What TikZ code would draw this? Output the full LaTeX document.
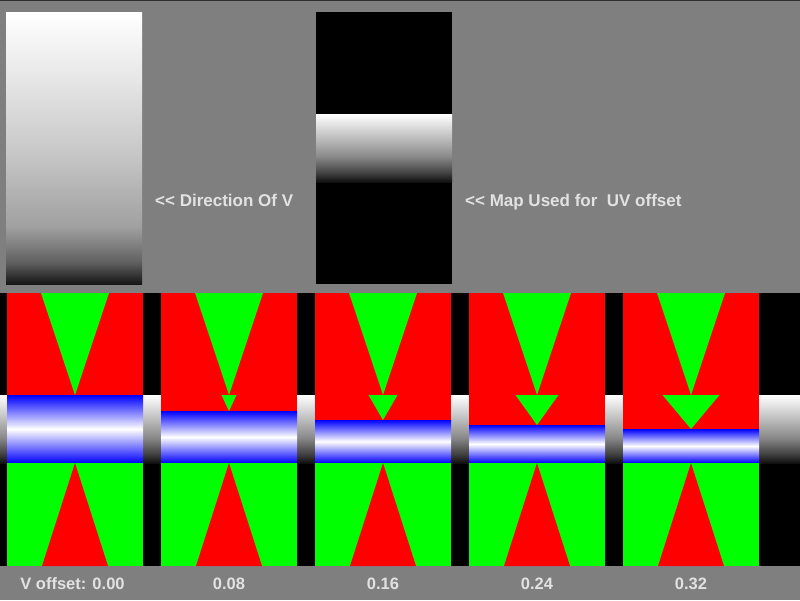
\documentclass[tikz,border=0pt]{standalone}
\usepackage{fontspec}
\setmainfont{Liberation Sans}
\definecolor{bg}{RGB}{127,127,127}
\definecolor{txt}{RGB}{226,226,226}
\definecolor{topline}{RGB}{45,45,45}
\definecolor{dA}{RGB}{22,22,22}
\definecolor{dB}{RGB}{96,96,96}
\definecolor{dC}{RGB}{160,160,160}
\definecolor{dD}{RGB}{200,200,200}
\definecolor{dE}{RGB}{230,230,230}
\definecolor{mA}{RGB}{16,16,16}
\definecolor{mB}{RGB}{64,64,64}
\definecolor{mC}{RGB}{136,136,136}
\definecolor{mD}{RGB}{184,184,184}
\pgfdeclareverticalshading{dirv}{100bp}{color(0bp)=(dA); color(25bp)=(dA); color(29bp)=(dB); color(35.5bp)=(dC); color(49.5bp)=(dD); color(62.5bp)=(dE); color(75bp)=(white); color(100bp)=(white)}
\pgfdeclareverticalshading{mapv}{100bp}{color(0bp)=(mA); color(25bp)=(mA); color(31.5bp)=(mB); color(43.5bp)=(mC); color(56bp)=(mD); color(75bp)=(white); color(100bp)=(white)}
\tikzset{
  lbl/.style={inner sep=0pt, text=txt, font=\bfseries\fontsize{17}{20}\selectfont},
  vlbl/.style={inner sep=0pt, text=txt, anchor=base, font=\bfseries\fontsize{16.5}{20}\selectfont},
  band/.style={top color=blue, bottom color=blue, middle color=white}
}
\begin{document}
\begin{tikzpicture}[x=1pt,y=-1pt]
\fill[bg] (0,0) rectangle (800,600);
\useasboundingbox (0,0) rectangle (800,600);
\fill[topline] (0,0) rectangle (800,1);
% direction of V
\shade[shading=dirv] (6,12) rectangle (142,284);
% map used
\fill[black] (316,12) rectangle (452,284);
\shade[shading=mapv] (316,114) rectangle (452,182);
\node[lbl, anchor=base west] (dirlabel) at (155,206) {<\kern0pt< Direction Of V};
\node[lbl, anchor=base west] (maplabel) at (465,206) {<\kern0pt< Map Used for\ \ UV offset};
% bottom background (tiled map)
\fill[black] (0,293) rectangle (800,566);
\shade[shading=mapv] (0,395) rectangle (800,463);
% panels
\foreach \i/\w/\b in {0/0/395, 1/15/411, 2/29/420, 3/43/425, 4/57/429}{
  \pgfmathsetmacro{\px}{7+154*\i}
  \fill[red] (\px,293) rectangle (\px+136,395);
  \fill[green] (\px+34,293) -- (\px+102,293) -- (\px+68,395) -- cycle;
  \fill[red] (\px,395) rectangle (\px+136,\b);
  \fill[green] (\px+68-\w/2,395) -- (\px+68+\w/2,395) -- (\px+68,\b) -- cycle;
  \shade[band] (\px,\b) rectangle (\px+136,463);
  \fill[green] (\px,463) rectangle (\px+136,566);
  \fill[red] (\px+68,463) -- (\px+101,566) -- (\px+35,566) -- cycle;
}
\node[vlbl] (off0) at (72.5,589) {V offset: 0.00};
\node[vlbl] (off1) at (229,589) {0.08};
\node[vlbl] (off2) at (383,589) {0.16};
\node[vlbl] (off3) at (537,589) {0.24};
\node[vlbl] (off4) at (691,589) {0.32};
\end{tikzpicture}
\end{document}
